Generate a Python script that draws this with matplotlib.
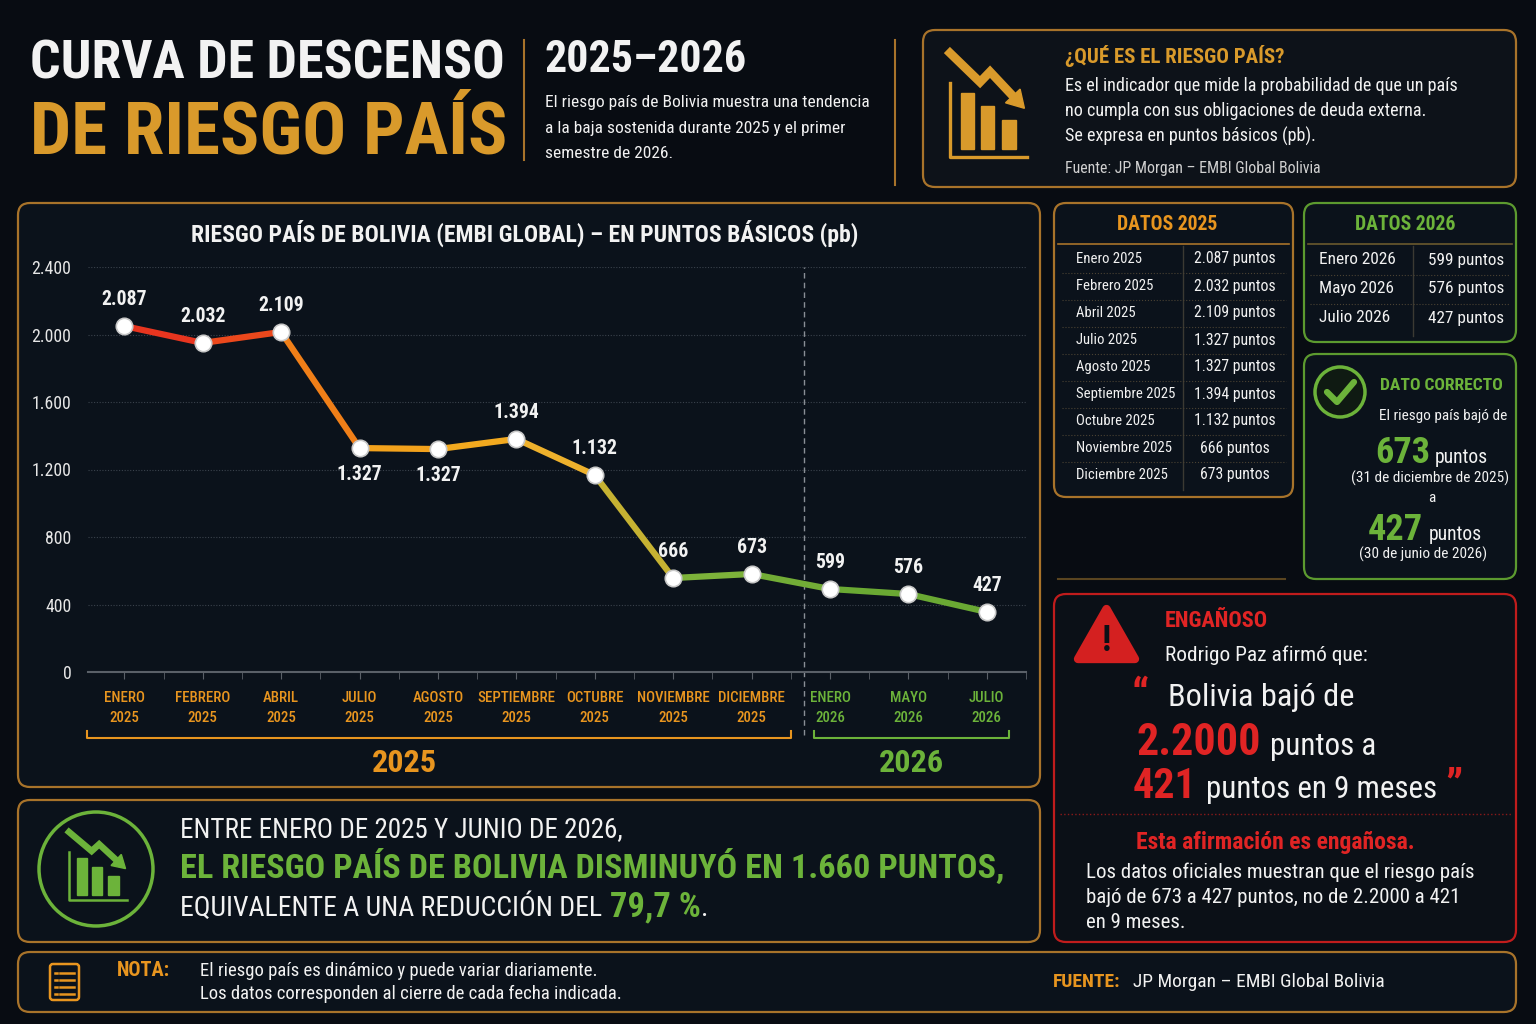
import numpy as np
import matplotlib
matplotlib.use("Agg")
import matplotlib.pyplot as plt
import matplotlib.transforms as mtransforms
from matplotlib.patches import FancyBboxPatch, Rectangle, Circle, Polygon

# ---- data ----
meses = ["ENERO", "FEBRERO", "ABRIL", "JULIO", "AGOSTO", "SEPTIEMBRE",
         "OCTUBRE", "NOVIEMBRE", "DICIEMBRE", "ENERO", "MAYO", "JULIO"]
anios = ["2025"] * 9 + ["2026"] * 3
# marker heights as drawn in the source chart (pb)
riesgo = [2050, 1950, 2015, 1327, 1321, 1381, 1167, 557, 581, 492, 462, 356]
etiquetas = ["2.087", "2.032", "2.109", "1.327", "1.327", "1.394",
             "1.132", "666", "673", "599", "576", "427"]
y_ticks = [0, 400, 800, 1200, 1600, 2000, 2400]
y_labels = ["0", "400", "800", "1.200", "1.600", "2.000", "2.400"]

tabla25_mes = ["Enero 2025", "Febrero 2025", "Abril 2025", "Julio 2025", "Agosto 2025",
               "Septiembre 2025", "Octubre 2025", "Noviembre 2025", "Diciembre 2025"]
tabla25_val = ["2.087 puntos", "2.032 puntos", "2.109 puntos", "1.327 puntos", "1.327 puntos",
               "1.394 puntos", "1.132 puntos", "666 puntos", "673 puntos"]
tabla26_mes = ["Enero 2026", "Mayo 2026", "Julio 2026"]
tabla26_val = ["599 puntos", "576 puntos", "427 puntos"]

# ---- style ----
FONT = ["Roboto Condensed", "Liberation Sans Narrow", "Roboto", "DejaVu Sans"]
BG = "#080c12"
PANEL = "#0b121b"
GOLD = "#d99a2b"
GOLD_LINE = "#a8732a"
ORANGE = "#e8951f"
GREEN = "#6cb33a"
RED = "#e02424"
WHITE = "#f2f2f2"
seg_colors = ["#e8351f", "#ec481c", "#f07f18", "#f3a21c", "#f2a91f", "#eeb12c",
              "#c6b232", "#7db23a", "#72ac36", "#6aa933", "#6aa933"]

plt.rcParams["font.family"] = FONT
plt.rcParams["font.stretch"] = "condensed"
fig = plt.figure(figsize=(15.36, 10.24), dpi=100, facecolor=BG)
bg = fig.add_axes([0, 0, 1, 1])
bg.set_xlim(0, 1536)
bg.set_ylim(1024, 0)
bg.axis("off")
bg.set_facecolor(BG)
R = fig.canvas.get_renderer()


def fitsize(strings, size, w, weight="normal"):
    """largest size <= size for which the widest string fits in w pixels"""
    if isinstance(strings, str):
        strings = [strings]
    best = size
    for s in strings:
        tmp = bg.text(0, 0, s, fontsize=size, fontweight=weight, family=FONT)
        bw = tmp.get_window_extent(renderer=R).width
        tmp.remove()
        if bw > w:
            best = min(best, size * w / bw)
    return best


def t(x, y, s, size, color=WHITE, weight="normal", ha="left", va="center", w=None, **kw):
    if w is not None:
        size = fitsize(s, size, w, weight)
    return bg.text(x, y, s, fontsize=size, color=color, fontweight=weight,
                   ha=ha, va=va, family=FONT, **kw)


def run(x, y, parts, va="baseline"):
    for s, size, color, weight, w, gap in parts:
        tt = t(x, y, s, size, color, weight, va=va, w=w)
        bb = tt.get_window_extent(renderer=R)
        x = bg.transData.inverted().transform((bb.x1, bb.y0))[0] + gap


def panel(x, y, w, h, edge, face=PANEL, lw=1.6, r=12):
    bg.add_patch(FancyBboxPatch((x, y), w, h, boxstyle=f"round,pad=0,rounding_size={r}",
                                facecolor=face, edgecolor=edge, lw=lw, zorder=1))


def trend_icon(x0, y0, w, h, color, lw):
    X = lambda u: x0 + u * w
    Y = lambda v: y0 + v * h
    bg.plot([X(0), X(0), X(1)], [Y(0.29), Y(1), Y(1)], color=color, lw=lw, zorder=3)
    for u0, u1, v0 in [(0.14, 0.31, 0.38), (0.40, 0.57, 0.51), (0.68, 0.86, 0.64)]:
        bg.add_patch(Rectangle((X(u0), Y(v0)), X(u1) - X(u0), Y(0.92) - Y(v0),
                               color=color, zorder=3))
    px = [X(0), X(0.39), X(0.52), X(0.85)]
    py = [Y(0), Y(0.28), Y(0.18), Y(0.44)]
    bg.plot(px, py, color=color, lw=lw * 2.6, solid_joinstyle="miter", zorder=3)
    d = np.array([px[3] - px[2], py[3] - py[2]])
    d = d / np.hypot(*d)
    n = np.array([-d[1], d[0]])
    base = np.array([px[3], py[3]]) - d * w * 0.05
    tip = base + d * w * 0.22
    s = w * 0.13
    bg.add_patch(Polygon([tip, base + n * s, base - n * s], closed=True, color=color, zorder=3))


def lines(x, y0, dy, strings, size, w, color=WHITE, weight="normal"):
    size = fitsize(strings, size, w, weight)
    for i, s in enumerate(strings):
        t(x, y0 + dy * i, s, size, color, weight)


# ---------------- header ----------------
t(30, 64, "CURVA DE DESCENSO", 45, WHITE, "bold", w=475)
t(30, 134, "DE RIESGO PAÍS", 57, GOLD, "bold", w=477)
bg.plot([524, 524], [40, 160], color=GOLD_LINE, lw=1.5)
t(545, 60, "2025–2026", 35, WHITE, "bold", w=202)
lines(545, 103, 25.5, ["El riesgo país de Bolivia muestra una tendencia",
                       "a la baja sostenida durante 2025 y el primer",
                       "semestre de 2026."], 13, 323)
bg.plot([895, 895], [40, 185], color=GOLD_LINE, lw=1.5)

panel(923, 30, 593, 157, GOLD_LINE, face="#0d1219")
trend_icon(950, 53, 77, 104, GOLD, 2.4)
t(1065, 56, "¿QUÉ ES EL RIESGO PAÍS?", 15, GOLD, "bold", w=232)
lines(1065, 86, 25, ["Es el indicador que mide la probabilidad de que un país",
                     "no cumpla con sus obligaciones de deuda externa.",
                     "Se expresa en puntos básicos (pb)."], 13.5, 393)
t(1065, 169, "Fuente: JP Morgan – EMBI Global Bolivia", 11.5, "#d0d0d0", w=256)

# ---------------- chart panel ----------------
panel(18, 203, 1022, 584, GOLD_LINE)
t(525, 233, "RIESGO PAÍS DE BOLIVIA (EMBI GLOBAL) – EN PUNTOS BÁSICOS (pb)", 17,
  WHITE, "bold", ha="center", w=690)

ax = fig.add_axes([88 / 1536, 1 - 672 / 1024, 938 / 1536, 405 / 1024])
ax.set_facecolor("none")
x = np.arange(len(riesgo))
ax.set_xlim(-0.463, 11.28)
ax.set_ylim(0, 2400)
for sp in ["top", "right", "left"]:
    ax.spines[sp].set_visible(False)
ax.spines["bottom"].set_color("#5a6068")
ax.spines["bottom"].set_linewidth(1.5)
ax.set_yticks(y_ticks, labels=y_labels)
ax.tick_params(axis="y", length=0, pad=12, labelcolor="#e6e6e6",
               labelsize=fitsize("2.400", 14, 40))
ax.grid(axis="y", color="#3a424c", lw=0.8, ls=(0, (1, 1.5)))
ax.set_axisbelow(True)
ax.set_xticks(x, labels=[f"{m}\n{a}" for m, a in zip(meses, anios)])
ax.set_xticks(x + 0.5, minor=True)
ax.tick_params(axis="x", which="both", length=5, color="#5a6068", pad=9,
               labelsize=fitsize("SEPTIEMBRE", 12.5, 78, "medium"))
for lab, a in zip(ax.get_xticklabels(), anios):
    lab.set_color(ORANGE if a == "2025" else GREEN)
    lab.set_fontweight("medium")
    lab.set_linespacing(1.55)
for i in range(len(riesgo) - 1):
    ax.plot(x[i:i + 2], riesgo[i:i + 2], color=seg_colors[i], lw=4.5,
            solid_capstyle="round", zorder=3)
ax.scatter(x, riesgo, s=140, color="white", edgecolor="#c8c8c8", lw=1.2, zorder=4)
vsize = fitsize("2.087", 16, 46, "bold")
for i, (xi, yi, lab) in enumerate(zip(x, riesgo, etiquetas)):
    dy = -19 if i in (3, 4) else 19
    ax.annotate(lab, (xi, yi), xytext=(0, dy), textcoords="offset points",
                ha="center", va="center", fontsize=vsize, fontweight="bold", color=WHITE)

sep = 8.67
ax.axvline(sep, ymin=-0.155, ymax=1, color="#8a8f96", lw=1, ls=(0, (4, 3)), clip_on=False)
tr = mtransforms.blended_transform_factory(ax.transData, ax.transAxes)
for x0, x1, col in [(-0.476, 8.50, ORANGE), (8.80, 11.28, GREEN)]:
    ax.plot([x0, x0, x1, x1], [-0.146, -0.163, -0.163, -0.146], color=col, lw=1.5,
            transform=tr, clip_on=False)
ysize = fitsize("2025", 27, 65, "bold")
ax.text(3.57, -0.225, "2025", transform=tr, ha="center", va="center", fontsize=ysize,
        fontweight="bold", color=ORANGE)
ax.text(10.04, -0.225, "2026", transform=tr, ha="center", va="center", fontsize=ysize,
        fontweight="bold", color=GREEN)

# ---------------- data tables ----------------
panel(1054, 203, 239, 294, GOLD_LINE)
t(1167, 225, "DATOS 2025", 16, ORANGE, "bold", ha="center", w=101)
bg.plot([1058, 1289], [244, 244], color=GOLD_LINE, lw=1.2)
bg.plot([1183, 1183], [246, 490], color="#3b3a33", lw=1)
s_mes = fitsize(tabla25_mes, 12.5, 99)
s_val = fitsize(tabla25_val, 12.5, 82)
for i, (m, v) in enumerate(zip(tabla25_mes, tabla25_val)):
    yy = 259 + 27 * i
    t(1076, yy, m, s_mes)
    t(1235, yy, v, s_val, ha="center")
    if i < len(tabla25_mes) - 1:
        bg.plot([1062, 1286], [yy + 13.5, yy + 13.5], color="#4a4233", lw=0.8, ls=":")

panel(1304, 203, 212, 139, "#5c9a2f")
t(1405, 225, "DATOS 2026", 16, GREEN, "bold", ha="center", w=101)
bg.plot([1308, 1512], [244, 244], color="#6b5a2e", lw=1.2)
bg.plot([1413, 1413], [246, 336], color="#3b3a33", lw=1)
s26 = min(fitsize(tabla26_mes, 13.5, 77), fitsize(tabla26_val, 13.5, 77))
for i, (m, v) in enumerate(zip(tabla26_mes, tabla26_val)):
    yy = 260 + 29 * i
    t(1319, yy, m, s26)
    t(1466, yy, v, s26, ha="center")
    if i < len(tabla26_mes) - 1:
        bg.plot([1310, 1510], [yy + 14.5, yy + 14.5], color="#4a4233", lw=0.8, ls=":")

# dato correcto
panel(1304, 354, 212, 225, "#5c9a2f")
bg.add_patch(Circle((1340, 392), 25, facecolor="#0f1a12", edgecolor=GREEN, lw=2.5, zorder=3))
bg.plot([1327, 1337, 1354], [392, 402, 382], color=GREEN, lw=4.5, zorder=4,
        solid_capstyle="round", solid_joinstyle="round")
t(1380, 386, "DATO CORRECTO", 13, GREEN, "bold", w=123)
t(1443, 416, "El riesgo país bajó de", 11.5, ha="center", w=128)
run(1375, 463, [("673", 30, GREEN, "bold", 55, 5), ("puntos", 15.5, WHITE, "normal", 53, 0)])
t(1430, 478, "(31 de diciembre de 2025)", 11, ha="center", w=158)
t(1432, 498, "a", 11, ha="center")
run(1368, 540, [("427", 30, GREEN, "bold", 55, 6), ("puntos", 15.5, WHITE, "normal", 53, 0)])
t(1423, 554, "(30 de junio de 2026)", 11, ha="center", w=133)
bg.plot([1058, 1285], [579, 579], color="#5a4520", lw=1.5)

# ---------------- misleading claim ----------------
panel(1054, 594, 462, 348, "#c01c1c", face="#0b1017")
bg.add_patch(Polygon([(1078, 659), (1135, 659), (1106.5, 609)], closed=True,
                     facecolor="#d42020", edgecolor="#d42020", lw=6, joinstyle="round",
                     zorder=3))
t(1106.5, 641, "!", 26, "#0b1017", "bold", ha="center", zorder=4)
t(1165, 621, "ENGAÑOSO", 16, RED, "bold", w=105)
t(1165, 655, "Rodrigo Paz afirmó que:", 16.5, w=203)
t(1131, 698, "“", 32, RED, "bold")
t(1168, 706, "Bolivia bajó de", 25, va="baseline", w=187)
run(1137, 755, [("2.2000", 36, RED, "bold", 125, 9), ("puntos a", 24, WHITE, "normal", 106, 0)])
run(1133, 798, [("421", 36, RED, "bold", 64, 9),
                ("puntos en 9 meses", 24, WHITE, "normal", 232, 6)])
t(1445, 788, "”", 32, RED, "bold")
bg.plot([1060, 1512], [814, 814], color="#8a1a1a", lw=1, ls=":")
t(1275, 842, "Esta afirmación es engañosa.", 17, RED, "bold", ha="center", w=285)
lines(1086, 872, 25.5, ["Los datos oficiales muestran que el riesgo país",
                        "bajó de 673 a 427 puntos, no de 2.2000 a 421",
                        "en 9 meses."], 16, 391)

# ---------------- summary ----------------
panel(18, 800, 1022, 142, GOLD_LINE)
bg.add_patch(Circle((96, 869), 57, facecolor="none", edgecolor=GREEN, lw=2.5, zorder=3))
trend_icon(69, 832, 58, 68, GREEN, 1.8)
t(180, 830, "ENTRE ENERO DE 2025 Y JUNIO DE 2026,", 20, w=442)
t(180, 867, "EL RIESGO PAÍS DE BOLIVIA DISMINUYÓ EN 1.660 PUNTOS,", 25, GREEN, "bold", w=828)
run(180, 916, [("EQUIVALENTE A UNA REDUCCIÓN DEL", 20, WHITE, "normal", 447, 8),
               ("79,7 %", 25, GREEN, "bold", 91, 0), (".", 20, WHITE, "normal", None, 0)])

# ---------------- note ----------------
panel(18, 952, 1498, 60, GOLD_LINE)
bg.add_patch(FancyBboxPatch((50, 964), 29, 36, boxstyle="round,pad=0,rounding_size=3",
                            facecolor="none", edgecolor=ORANGE, lw=1.8, zorder=3))
for yy in [973, 980, 987, 994]:
    bg.plot([55, 57], [yy, yy], color=ORANGE, lw=1.8, zorder=3)
    bg.plot([60, 74], [yy, yy], color=ORANGE, lw=1.8, zorder=3)
t(117, 971, "NOTA:", 15, ORANGE, "bold", w=54)
lines(200, 971, 23, ["El riesgo país es dinámico y puede variar diariamente.",
                     "Los datos corresponden al cierre de cada fecha indicada."], 13.5, 440)
t(1053, 982, "FUENTE:", 14, ORANGE, "bold", w=68)
t(1133, 982, "JP Morgan – EMBI Global Bolivia", 14, w=252)

fig.savefig("out.png", dpi=100, facecolor=BG)
